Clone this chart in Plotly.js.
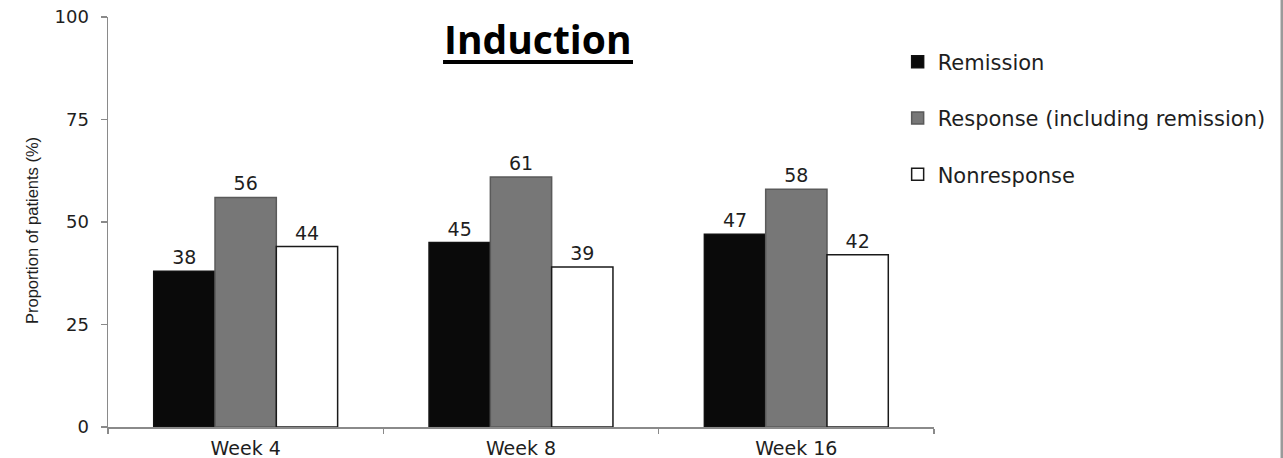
<!DOCTYPE html>
<html>
<head>
<meta charset="utf-8">
<script src="https://cdn.plot.ly/plotly-3.0.1.min.js"></script>
<style>
  html, body { margin: 0; padding: 0; background: #fff; }
  #chart { width: 1283px; height: 458px; }
</style>
</head>
<body>
<div id="chart"></div>
<script>
// Proportion of patients by visit during induction
const weeks = ['Week 4', 'Week 8', 'Week 16'];
const remission = [38, 45, 47];
const response = [56, 61, 58];
const nonresponse = [44, 39, 42];

const seriesNames = ['Remission', 'Response (including remission)', 'Nonresponse'];
const titleText = 'Induction';
const yTitle = 'Proportion of patients (%)';
const yTicks = [0, 25, 50, 75, 100];

const sans = 'DejaVu Sans, Arial, sans-serif';
const labelFont = { family: sans, size: 19, color: '#1e1e1e' };

function barTrace(name, values, fill, edge, group) {
  return {
    type: 'bar',
    name: name,
    x: weeks,
    y: values,
    text: values.map(String),
    textposition: 'outside',
    cliponaxis: false,
    textfont: labelFont,
    legendgroup: group,
    marker: { color: fill, line: { color: edge, width: 1.5 } },
    hoverinfo: 'x+y+name'
  };
}

const data = [
  barTrace(seriesNames[0], remission, '#0a0a0a', '#111', 'g1'),
  barTrace(seriesNames[1], response, '#777777', '#5a5a5a', 'g2'),
  barTrace(seriesNames[2], nonresponse, '#ffffff', '#1a1a1a', 'g3')
];

const layout = {
  width: 1283,
  height: 458,
  margin: { l: 108, r: 349, t: 17, b: 31 },
  paper_bgcolor: '#ffffff',
  plot_bgcolor: '#ffffff',
  barmode: 'group',
  bargap: 0.332,
  bargroupgap: 0,
  showlegend: true,
  legend: {
    x: 0.956, xanchor: 'left',
    y: 0.94, yanchor: 'top',
    font: { family: sans, size: 21, color: '#1e1e1e' },
    tracegroupgap: 26,
    traceorder: 'grouped',
    bgcolor: 'rgba(0,0,0,0)'
  },
  xaxis: {
    type: 'category',
    showline: true, linecolor: '#8a8a8a', linewidth: 1.5,
    ticks: 'outside', tickson: 'boundaries', ticklen: 5, tickcolor: '#8a8a8a', tickwidth: 1.5,
    ticklabelstandoff: 4,
    tickfont: { family: sans, size: 19, color: '#1e1e1e' },
    showgrid: false, zeroline: false, fixedrange: true
  },
  yaxis: {
    range: [0, 100],
    tickvals: yTicks,
    ticktext: yTicks.map(String),
    showline: true, linecolor: '#8a8a8a', linewidth: 1.5,
    ticks: 'outside', ticklen: 6, tickcolor: '#8a8a8a', tickwidth: 1.5,
    ticklabelstandoff: 8,
    tickfont: { family: sans, size: 18, color: '#1e1e1e' },
    showgrid: false, zeroline: false, fixedrange: true
  },
  annotations: [
    {
      text: '<b>' + titleText + '</b>',
      xref: 'paper', yref: 'paper',
      x: 0.5206, y: 0.947,
      xanchor: 'center', yanchor: 'middle',
      showarrow: false,
      font: { family: 'Open Sans, Arial, sans-serif', size: 39, color: '#000' }
    },
    // vertical axis caption
    {
      text: yTitle,
      xref: 'paper', yref: 'paper',
      x: -0.092, y: 0.478,
      xanchor: 'center', yanchor: 'middle',
      textangle: -90,
      showarrow: false,
      font: { family: 'Liberation Sans, Arial, sans-serif', size: 16.5, color: '#1e1e1e' }
    }
  ],
  shapes: [
    // underline beneath the heading
    {
      type: 'line', xref: 'paper', yref: 'paper',
      x0: 0.4056, x1: 0.6356, y0: 0.890, y1: 0.890,
      line: { color: '#000', width: 4 }
    },
    // frame edge on the right
    {
      type: 'line', xref: 'paper', yref: 'paper',
      x0: 1.4213, x1: 1.4213, y0: -0.08, y1: 1.05,
      line: { color: '#9a9a9a', width: 3 }
    }
  ]
};

Plotly.newPlot('chart', data, layout, { displayModeBar: false, staticPlot: true });
</script>
</body>
</html>
